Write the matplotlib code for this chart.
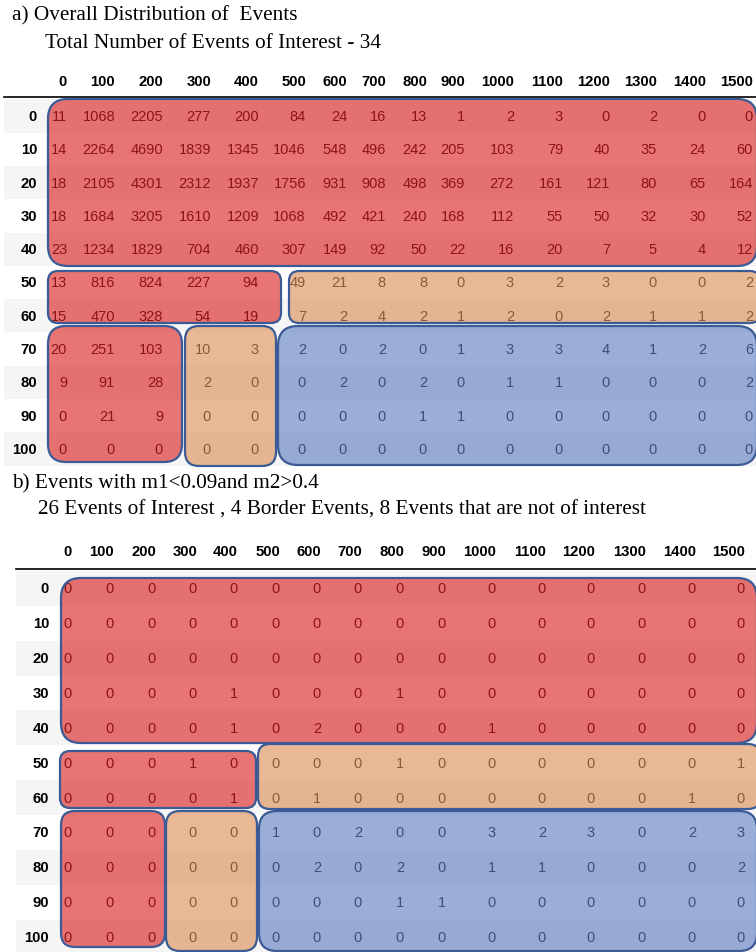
import numpy as np
import matplotlib.pyplot as plt
from matplotlib.patches import FancyBboxPatch, Rectangle

#%% Data

cols = [0, 100, 200, 300, 400, 500, 600, 700, 800, 900, 1000, 1100, 1200, 1300, 1400, 1500]
rows = [0, 10, 20, 30, 40, 50, 60, 70, 80, 90, 100]

counts_all = [
    [11, 1068, 2205, 277, 200, 84, 24, 16, 13, 1, 2, 3, 0, 2, 0, 0],
    [14, 2264, 4690, 1839, 1345, 1046, 548, 496, 242, 205, 103, 79, 40, 35, 24, 60],
    [18, 2105, 4301, 2312, 1937, 1756, 931, 908, 498, 369, 272, 161, 121, 80, 65, 164],
    [18, 1684, 3205, 1610, 1209, 1068, 492, 421, 240, 168, 112, 55, 50, 32, 30, 52],
    [23, 1234, 1829, 704, 460, 307, 149, 92, 50, 22, 16, 20, 7, 5, 4, 12],
    [13, 816, 824, 227, 94, 49, 21, 8, 8, 0, 3, 2, 3, 0, 0, 2],
    [15, 470, 328, 54, 19, 7, 2, 4, 2, 1, 2, 0, 2, 1, 1, 2],
    [20, 251, 103, 10, 3, 2, 0, 2, 0, 1, 3, 3, 4, 1, 2, 6],
    [9, 91, 28, 2, 0, 0, 2, 0, 2, 0, 1, 1, 0, 0, 0, 2],
    [0, 21, 9, 0, 0, 0, 0, 0, 1, 1, 0, 0, 0, 0, 0, 0],
    [0, 0, 0, 0, 0, 0, 0, 0, 0, 0, 0, 0, 0, 0, 0, 0],
]

counts_sel = [
    [0, 0, 0, 0, 0, 0, 0, 0, 0, 0, 0, 0, 0, 0, 0, 0],
    [0, 0, 0, 0, 0, 0, 0, 0, 0, 0, 0, 0, 0, 0, 0, 0],
    [0, 0, 0, 0, 0, 0, 0, 0, 0, 0, 0, 0, 0, 0, 0, 0],
    [0, 0, 0, 0, 1, 0, 0, 0, 1, 0, 0, 0, 0, 0, 0, 0],
    [0, 0, 0, 0, 1, 0, 2, 0, 0, 0, 1, 0, 0, 0, 0, 0],
    [0, 0, 0, 1, 0, 0, 0, 0, 1, 0, 0, 0, 0, 0, 0, 1],
    [0, 0, 0, 0, 1, 0, 1, 0, 0, 0, 0, 0, 0, 0, 1, 0],
    [0, 0, 0, 0, 0, 1, 0, 2, 0, 0, 3, 2, 3, 0, 2, 3],
    [0, 0, 0, 0, 0, 0, 2, 0, 2, 0, 1, 1, 0, 0, 0, 2],
    [0, 0, 0, 0, 0, 0, 0, 0, 1, 1, 0, 0, 0, 0, 0, 0],
    [0, 0, 0, 0, 0, 0, 0, 0, 0, 0, 0, 0, 0, 0, 0, 0],
]

title_a = "a) Overall Distribution of  Events"
sub_a = "Total Number of Events of Interest - 34"
title_b = "b) Events with m1<0.09and m2>0.4"
sub_b = "26 Events of Interest , 4 Border Events, 8 Events that are not of interest"

#%% Layout (pixel units)

W, H = 756, 953
sans = ['Liberation Sans', 'DejaVu Sans']
serif = ['Liberation Serif', 'DejaVu Serif']

red = (0.86, 0.09, 0.09, 0.6)
orange = (0.86, 0.54, 0.31, 0.6)
blue = (0.34, 0.47, 0.75, 0.6)
edge = '#3a5b95'

tables = [
    dict(data=counts_all, title=title_a, sub=sub_a,
         title_y=16, sub_y=43, sub_x=45, head_y=82, line_y=98, x_start=4,
         label_right=37, y0=117, dy=33.3,
         col_right=[67, 115, 163, 211, 259, 306, 347, 386, 427, 465, 514, 563, 610, 657, 706, 753],
         # boxes: x0, y0, x1, y1, colour, corner radius
         boxes=[(48, 100, 757, 267, red, 20),
                (48, 272, 281, 324, red, 10),
                (289, 272, 760, 324, orange, 10),
                (48, 327, 182, 463, red, 18),
                (185, 327, 276, 467, orange, 14),
                (278, 327, 757, 466, blue, 20)]),
    dict(data=counts_sel, title=title_b, sub=sub_b,
         title_y=484, sub_y=510, sub_x=38, head_y=552, line_y=570, x_start=16,
         label_right=49, y0=589.5, dy=34.85,
         col_right=[72, 114, 156, 197, 238, 280, 321, 362, 404, 446, 496, 546, 595, 646, 696, 745],
         boxes=[(61, 579, 757, 744, red, 20),
                (60, 752, 256, 809, red, 10),
                (258, 745, 760, 810, orange, 12),
                (61, 812, 165, 948, red, 14),
                (166, 812, 257, 952, orange, 14),
                (259, 812, 757, 952, blue, 18)]),
]

#%% Draw

fig = plt.figure(figsize=(W / 100, H / 100), dpi=100)
ax = fig.add_axes([0, 0, 1, 1])
ax.set_xlim(0, W)
ax.set_ylim(H, 0)
ax.set_axis_off()

for t in tables:
    ax.text(12, t['title_y'], t['title'], family=serif, fontsize=15.3,
            ha='left', va='center', color='black')
    ax.text(t['sub_x'], t['sub_y'], t['sub'], family=serif,
            fontsize=15.3, ha='left', va='center', color='black')

    # header
    for c, xr in zip(cols, t['col_right']):
        ax.text(xr, t['head_y'], str(c), family=sans, fontsize=10.7,
                fontweight='bold', ha='right', va='center', color='black')
    ax.plot([t['x_start'], W], [t['line_y'], t['line_y']], color='black', lw=1.2)

    # rows
    for i, (r, vals) in enumerate(zip(rows, t['data'])):
        yc = t['y0'] + i * t['dy']
        if i % 2 == 0:
            ax.add_patch(Rectangle((t['x_start'], yc - t['dy'] / 2), W - t['x_start'], t['dy'],
                                   facecolor='#f5f5f5', edgecolor='none', zorder=0))
        ax.text(t['label_right'], yc, str(r), family=sans, fontsize=10.7,
                fontweight='bold', ha='right', va='center', color='black', zorder=1)
        for v, xr in zip(vals, t['col_right']):
            ax.text(xr, yc, str(v), family=sans, fontsize=10.5,
                    ha='right', va='center', color='#151515', zorder=1)

    # highlighted regions
    for x0, y0, x1, y1, fc, rad in t['boxes']:
        ax.add_patch(FancyBboxPatch((x0, y0), x1 - x0, y1 - y0,
                                    boxstyle=f"round,pad=0,rounding_size={rad}",
                                    facecolor=fc, edgecolor=edge, lw=1.6, zorder=2))

fig.savefig('out.png', dpi=100)
